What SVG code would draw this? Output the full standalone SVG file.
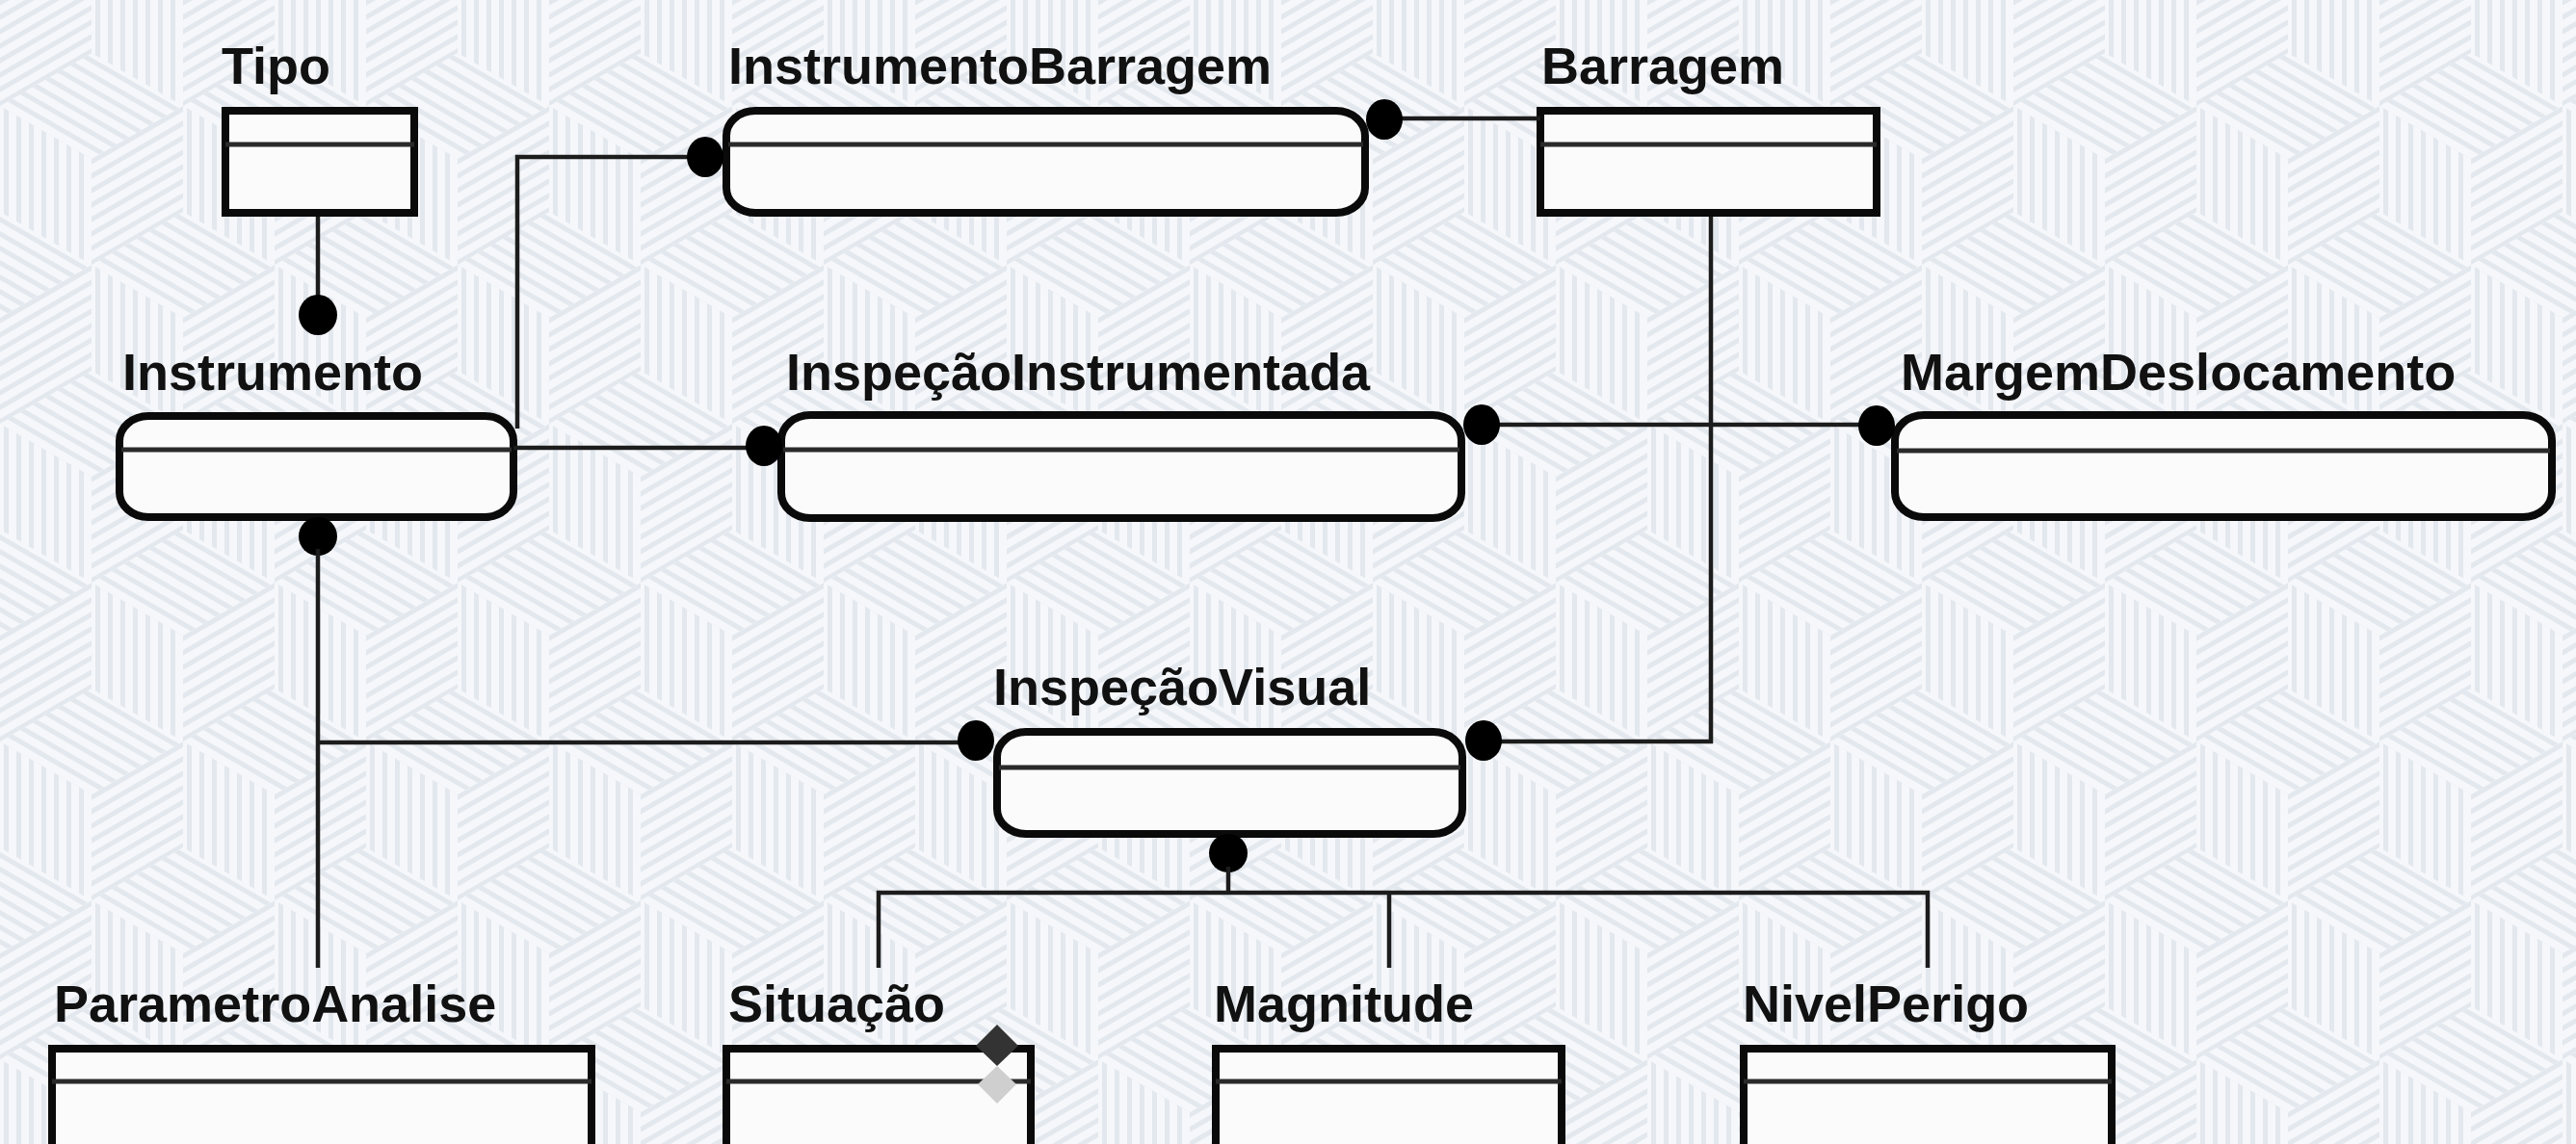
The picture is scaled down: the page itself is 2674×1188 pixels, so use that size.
<svg xmlns="http://www.w3.org/2000/svg" width="2674" height="1188" viewBox="0 0 2674 1188">
  <defs>
    <pattern id="pV" width="13" height="13" patternUnits="userSpaceOnUse">
      <rect x="0" y="0" width="5" height="13" fill="#e3e8ee"/>
    </pattern>
    <pattern id="pU" width="13" height="13" patternUnits="userSpaceOnUse" patternTransform="rotate(-30)">
      <rect x="0" y="0" width="13" height="5" fill="#e3e8ee"/>
    </pattern>
    <pattern id="pD" width="13" height="13" patternUnits="userSpaceOnUse" patternTransform="rotate(30)">
      <rect x="0" y="0" width="13" height="5" fill="#e3e8ee"/>
    </pattern>
    <pattern id="cubes" width="190" height="330" patternUnits="userSpaceOnUse">
      <rect width="190" height="330" fill="#f5f7fa"/>
      <g id="cube0">
        <path d="M0,-110 L95,-55 L0,0 L-95,-55 Z" fill="url(#pD)"/>
        <path d="M-95,-55 L0,0 L0,110 L-95,55 Z" fill="url(#pV)"/>
        <path d="M0,0 L95,-55 L95,55 L0,110 Z" fill="url(#pU)"/>
      </g>
      <use href="#cube0" x="190" y="0"/>
      <use href="#cube0" x="95" y="165"/>
      <use href="#cube0" x="0" y="330"/>
      <use href="#cube0" x="190" y="330"/>
    </pattern>
    <style>
      .lbl { font-family: "Liberation Sans", Arial, sans-serif; font-weight: bold; font-size: 54px; fill: #111; }
      .box { fill: #fbfbfb; stroke: #0a0a0a; stroke-width: 8; }
      .div { stroke: #2a2a2a; stroke-width: 5; }
      .ln { fill: none; stroke: #1c1c1c; stroke-width: 4.5; }
      .dot { fill: #000; }
    </style>
  </defs>

  <rect x="0" y="0" width="2674" height="1188" fill="url(#cubes)"/>

  <g id="nodes">
    <g id="tipo">
      <text class="lbl" x="230" y="87">Tipo</text>
      <rect class="box" x="234" y="115" width="196" height="106"/>
      <line class="div" x1="234" y1="150" x2="430" y2="150"/>
    </g>
    <g id="instrumentoBarragem">
      <text class="lbl" x="756" y="87">InstrumentoBarragem</text>
      <rect class="box" x="754" y="115" width="663" height="106" rx="30" ry="26"/>
      <line class="div" x1="756" y1="150" x2="1415" y2="150"/>
    </g>
    <g id="barragem">
      <text class="lbl" x="1600" y="87">Barragem</text>
      <rect class="box" x="1599" y="115" width="349" height="106"/>
      <line class="div" x1="1599" y1="150" x2="1948" y2="150"/>
    </g>
    <g id="instrumento">
      <text class="lbl" x="127" y="405">Instrumento</text>
      <rect class="box" x="124" y="432" width="409" height="105" rx="30" ry="26"/>
      <line class="div" x1="126" y1="467" x2="531" y2="467"/>
    </g>
    <g id="inspecaoInstrumentada">
      <text class="lbl" x="816" y="405">InspeçãoInstrumentada</text>
      <rect class="box" x="811" y="431" width="706" height="107" rx="30" ry="26"/>
      <line class="div" x1="813" y1="467" x2="1515" y2="467"/>
    </g>
    <g id="margemDeslocamento">
      <text class="lbl" x="1973" y="405">MargemDeslocamento</text>
      <rect class="box" x="1967" y="431" width="682" height="106" rx="30" ry="26"/>
      <line class="div" x1="1969" y1="468" x2="2647" y2="468"/>
    </g>
    <g id="inspecaoVisual">
      <text class="lbl" x="1031" y="732">InspeçãoVisual</text>
      <rect class="box" x="1035" y="760" width="483" height="106" rx="30" ry="26"/>
      <line class="div" x1="1037" y1="797" x2="1516" y2="797"/>
    </g>
    <g id="parametroAnalise">
      <text class="lbl" x="56" y="1061">ParametroAnalise</text>
      <rect class="box" x="54" y="1089" width="560" height="200"/>
      <line class="div" x1="54" y1="1123" x2="614" y2="1123"/>
    </g>
    <g id="situacao">
      <text class="lbl" x="756" y="1061">Situação</text>
      <rect class="box" x="754" y="1089" width="316" height="200"/>
      <line class="div" x1="754" y1="1123" x2="1070" y2="1123"/>
    </g>
    <g id="magnitude">
      <text class="lbl" x="1260" y="1061">Magnitude</text>
      <rect class="box" x="1262" y="1089" width="359" height="200"/>
      <line class="div" x1="1262" y1="1123" x2="1621" y2="1123"/>
    </g>
    <g id="nivelPerigo">
      <text class="lbl" x="1809" y="1061">NivelPerigo</text>
      <rect class="box" x="1810" y="1089" width="382" height="200"/>
      <line class="div" x1="1810" y1="1123" x2="2192" y2="1123"/>
    </g>
  </g>

  <g id="connectors">
    <!-- Tipo - Instrumento -->
    <line class="ln" x1="330" y1="225" x2="330" y2="310"/>
    <ellipse class="dot" cx="330" cy="327" rx="20" ry="21"/>
    <!-- Instrumento - InstrumentoBarragem -->
    <path class="ln" d="M537,445 V163 H715"/>
    <ellipse class="dot" cx="732" cy="163" rx="19" ry="21"/>
    <!-- InstrumentoBarragem - Barragem -->
    <line class="ln" x1="1452" y1="123" x2="1599" y2="123"/>
    <ellipse class="dot" cx="1437" cy="124" rx="19" ry="21"/>
    <!-- Instrumento - InspeçãoInstrumentada -->
    <line class="ln" x1="533" y1="465" x2="778" y2="465"/>
    <ellipse class="dot" cx="793" cy="463" rx="19" ry="21"/>
    <!-- InspeçãoInstrumentada - MargemDeslocamento -->
    <line class="ln" x1="1552" y1="441" x2="1935" y2="441"/>
    <ellipse class="dot" cx="1538" cy="441" rx="19" ry="21"/>
    <ellipse class="dot" cx="1948" cy="442" rx="19" ry="21"/>
    <!-- Instrumento - InspeçãoVisual / ParametroAnalise -->
    <ellipse class="dot" cx="330" cy="557" rx="20" ry="20"/>
    <line class="ln" x1="330" y1="570" x2="330" y2="1005"/>
    <line class="ln" x1="330" y1="771" x2="998" y2="771"/>
    <ellipse class="dot" cx="1013" cy="769" rx="19" ry="21"/>
    <!-- Barragem - InspeçãoVisual -->
    <path class="ln" d="M1776,225 V770 H1555"/>
    <ellipse class="dot" cx="1540" cy="769" rx="19" ry="21"/>
    <!-- InspeçãoVisual - subtypes -->
    <ellipse class="dot" cx="1275" cy="886" rx="20" ry="20"/>
    <line class="ln" x1="1275" y1="900" x2="1275" y2="927"/>
    <path class="ln" d="M912,1005 V927 H2001 V1005"/>
    <line class="ln" x1="1442" y1="927" x2="1442" y2="1005"/>
  </g>

  <g id="handle">
    <polygon points="1035,1064 1057,1086 1035,1107 1013,1086" fill="#333"/>
    <polygon points="1035,1107 1055,1126 1035,1146 1015,1126" fill="#cfcfcf"/>
  </g>
</svg>
